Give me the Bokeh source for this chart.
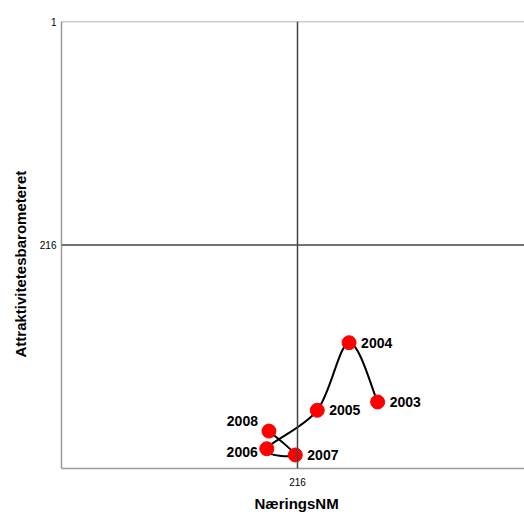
import numpy as np
from bokeh.plotting import figure
from bokeh.models import Range1d, FixedTicker, Span, Title, ColumnDataSource
from bokeh.core.properties import value
from bokeh.embed import file_html
from bokeh.resources import INLINE

# ---- data ----
years = ["2003", "2004", "2005", "2006", "2007", "2008"]
naerings_nm = [289, 263, 234, 188, 214, 190]
attraktivitet = [367, 310, 375, 412, 418, 395]
x_ticks = [216]
y_ticks = [1, 216]
x_label = "NæringsNM"
y_label = "Attraktivitetesbarometeret"

# label placement (style, screen pixels)
lab_dx = [12, 12, 12, -9, 12, -11]
lab_dy = [0, 0, 0, 3, 0, -10]
lab_align = ["left", "left", "left", "right", "left", "right"]

FONT = "Liberation Sans"
BORDER = "#9a9a9a"
CENTER = "#454545"

p = figure(width=524, height=516, output_backend="svg", toolbar_location=None,
           x_range=Range1d(1, 422.8), y_range=Range1d(431, 1),
           min_border_left=61, min_border_right=0, min_border_top=21,
           min_border_bottom=48)
p.outline_line_color = None
p.xgrid.visible = False
p.ygrid.visible = False
p.background_fill_color = "white"

for ax, ticks, standoff in ((p.xaxis[0], x_ticks, 9), (p.yaxis[0], y_ticks, 5)):
    ax.ticker = FixedTicker(ticks=ticks)
    ax.axis_line_color = BORDER
    ax.axis_line_width = 1.5
    ax.major_tick_line_color = None
    ax.minor_tick_line_color = None
    ax.major_tick_out = 0
    ax.major_tick_in = 0
    ax.minor_tick_out = 0
    ax.major_label_text_font = FONT
    ax.major_label_text_font_size = "10px"
    ax.major_label_text_color = "black"
    ax.major_label_standoff = standoff

p.add_layout(Span(location=1, dimension="width", line_color=BORDER, line_width=1.5))
p.add_layout(Span(location=x_ticks[0], dimension="height", line_color=CENTER, line_width=1.5))
p.add_layout(Span(location=y_ticks[1], dimension="width", line_color=CENTER, line_width=1.5))

# smoothed connecting line (Catmull-Rom style Bezier segments)
xs = np.array(naerings_nm, float)
ys = np.array(attraktivitet, float)
n = len(xs)
xp = np.concatenate([[xs[0]], xs, [xs[-1]]])
yp = np.concatenate([[ys[0]], ys, [ys[-1]]])
cx0 = xs[:-1] + (xp[2:n + 1] - xp[0:n - 1]) / 6
cy0 = ys[:-1] + (yp[2:n + 1] - yp[0:n - 1]) / 6
cx1 = xs[1:] - (xp[3:n + 2] - xp[1:n]) / 6
cy1 = ys[1:] - (yp[3:n + 2] - yp[1:n]) / 6
p.bezier(x0=xs[:-1], y0=ys[:-1], x1=xs[1:], y1=ys[1:],
         cx0=cx0, cy0=cy0, cx1=cx1, cy1=cy1, line_color="black", line_width=2)

src = ColumnDataSource(dict(x=naerings_nm, y=attraktivitet, t=years,
                            dx=lab_dx, dy=lab_dy, al=lab_align))
p.scatter("x", "y", source=src, size=14, fill_color="#ff0000", line_color="#ff0000")
p.text("x", "y", text="t", source=src, x_offset="dx", y_offset="dy", text_align="al",
       text_baseline="middle", text_font=value(FONT), text_font_style="bold",
       text_font_size="14px", text_color="black")

p.add_layout(Title(text=x_label, align="left", offset=193, standoff=8,
                   text_font=FONT, text_font_style="bold", text_font_size="15px",
                   text_color="black"), "below")
p.add_layout(Title(text=y_label, align="left", offset=111, standoff=16,
                   text_font=FONT, text_font_style="bold", text_font_size="15px",
                   text_color="black"), "left")

open("out.html", "w").write(file_html(p, INLINE))
